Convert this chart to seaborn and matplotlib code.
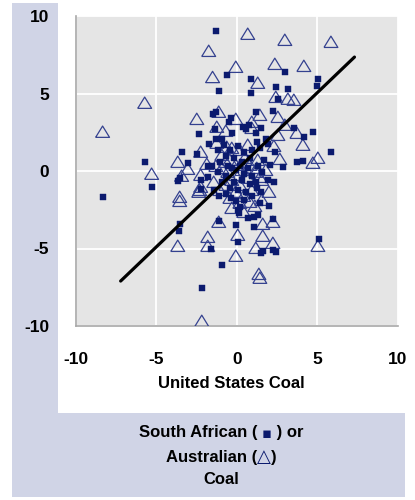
import numpy as np
import pandas as pd
import matplotlib
matplotlib.use("Agg")
import matplotlib.pyplot as plt
import seaborn as sns
from matplotlib.patches import Rectangle
from matplotlib.offsetbox import TextArea, HPacker, AnchoredOffsetbox

# ---------------- data ----------------
sa_x = [-1.30, -2.36, -1.74, -3.42, -2.48, -5.71, -3.04, -3.54, -3.66, -2.24,
        -1.80, -5.28, -2.24, -8.32, -3.54, -3.60, -2.17, -0.62, -1.12, -1.49,
        -1.30, -1.37, -0.50, -1.30, -0.93, -1.80, 0.87, 2.98, 5.03, 4.97,
        2.42, 3.17, 0.87, 2.55, 2.24, 1.18, -0.37, 0.75, 1.49, 3.54,
        4.72, 4.16, 5.84, 3.73, 4.10, 2.86, 2.36, -0.31, 0.37, 0.56,
        1.18, 1.24, 1.80, 1.93, 1.24, 1.49, -0.37, -0.06, 0.19, 0.06,
        0.12, 1.43, 1.99, 0.68, 1.06, 1.30, 2.24, 1.06, -0.06, 0.06,
        1.49, 1.61, 2.24, 2.42, 5.09, -1.61, -1.12, -0.93, -1.12,
        -0.81, -0.43, 0.06, 0.43, 0.93, 1.43, -0.68, -0.19, 0.31, 0.81,
        1.30, -1.06, -0.56, -0.06, 0.43, 0.93, 1.55, -1.18, -0.68, -0.19,
        0.31, 0.81, 1.93, -0.93, -0.43, 0.06, 0.56, -1.43, -0.68, 0.43,
        0.93, -0.31, 0.19, 0.68, 1.18, 1.68, 2.05, 2.30, -1.55, -1.18]
sa_y = [9.03, 2.39, 1.74, 1.23, 1.10, 0.58, 0.52, -0.45, -0.65, -0.58,
        -0.39, -1.03, -1.16, -1.68, -3.42, -3.87, -7.55, 6.19, 5.16, 3.68,
        3.81, 2.71, 3.16, 2.06, 2.06, 0.32, 5.94, 6.39, 5.94, 5.48,
        5.42, 5.29, 5.03, 4.65, 3.87, 3.81, 3.42, 2.97, 2.77, 2.77,
        2.52, 2.19, 1.23, 0.58, 0.65, 0.26, 1.23, 2.45, 2.84, 2.71,
        2.45, 1.87, 2.06, 1.74, -1.10, -1.35, -1.74, -1.94, -2.32, -2.52,
        -2.71, -2.06, -2.26, -3.03, -2.97, -2.84, -3.10, -3.61, -3.48, -4.58,
        -5.29, -5.16, -5.10, -5.23, -4.39, -5.03, -3.23, -6.06, -1.61,
        1.68, 1.35, 1.61, 1.23, 1.35, 1.48, 0.97, 0.84, 0.58, 0.84,
        0.32, 0.58, 0.32, 0.06, -0.19, -0.32, -0.06, -0.06, -0.32, -0.71,
        -0.58, -0.84, -0.58, -0.71, -1.10, -1.23, -1.35, -1.23, -1.48, -1.87,
        -1.61, 0.19, 0.32, 0.19, -0.71, 0.71, 0.39, -0.71, 0.32, 1.35]

au_x = [-1.74, -1.50, -5.71, -8.32, -2.48, -2.24, -3.66, -3.04, -1.86, -5.28,
        -3.42, -2.24, -2.24, -2.36, -3.54, -3.54, -1.80, -3.66, -1.80, -2.17,
        1.37, 1.43, -1.12, -1.24, -0.68, -1.24, -1.30, -0.62, -0.06, 2.36,
        4.16, 0.68, 2.98, 5.84, 1.30, 2.42, 3.17, 3.54, 2.55, 1.43,
        -0.06, 0.93, 0.93, 2.98, 3.73, 4.10, 2.30, 2.55, 5.03, 4.72,
        2.67, 1.99, 1.61, 2.24, 0.06, 1.61, 2.24, 1.18, 5.03, -0.06,
        -2.30, -1.12,
        -0.43, -0.06, 0.31, -0.56, 0.50, 0.81, -0.93, -0.31, 0.19, 0.68,
        1.18, -0.68, -0.06, 0.43, 0.93, 1.55, -1.06, -0.43, 1.80, 1.30,
        0.19, -0.31, -0.93, 0.68, -1.43, 1.55, -0.68, -0.06, 0.81, 0.43,
        0.19, -0.31, 1.12, 1.24, 1.43]
au_y = [7.74, 6.05, 4.39, 2.52, 3.35, 1.23, 0.58, 0.13, 0.45, -0.19,
        -0.32, -0.26, -1.03, -1.35, -1.68, -1.94, -4.26, -4.84, -4.84, -9.68,
        -6.65, -6.90, 3.81, 2.84, 2.58, 1.81, 0.32, 1.55, 6.71, 6.90,
        6.77, 8.84, 8.45, 8.32, 5.68, 4.77, 4.65, 4.58, 3.48, 3.61,
        3.35, 3.16, 2.77, 2.97, 2.45, 1.68, 1.61, 2.32, 0.84, 0.52,
        0.77, -1.35, -3.42, -3.29, -4.13, -4.19, -4.65, -4.97, -4.84, -5.48,
        -1.23, -3.29,
        0.71, 0.39, 0.06, -0.06, 0.84, 0.39, 0.19, -0.58, -0.90, -0.45,
        -0.06, -0.90, -1.35, -1.61, -1.23, -0.58, -1.23, -1.74, 0.06, 0.71,
        1.35, 1.48, 1.03, 1.68, -0.71, -1.87, 0.58, -0.26, -2.00, -2.65,
        -2.06, -2.39, -2.26, 0.19, -0.39]

fit_x = [-7.2, 7.3]
fit_y = [-7.1, 7.35]

ticks = [-10, -5, 0, 5, 10]
tick_labels = ["-10", "-5", "0", "5", "10"]
x_title = "United States Coal"
legend_lines = [["South African ( ", "▪", " ) or"],
                ["Australian (", "△", ")"],
                ["Coal"]]

# ---------------- styling ----------------
W, H = 415, 500
sns.set_style("darkgrid")
plt.rcParams['font.family'] = ['Liberation Sans', 'DejaVu Sans']
plt.rcParams['font.weight'] = 'bold'

navy_sq = "#0b1a6e"
navy_tri = "#34418f"
lavender = "#d0d4e6"

fig = plt.figure(figsize=(W / 100, H / 100), dpi=100)
fig.patch.set_facecolor("white")

def px_rect(x0, y0, x1, y1, color):
    fig.add_artist(Rectangle((x0 / W, 1 - y1 / H), (x1 - x0) / W, (y1 - y0) / H,
                             transform=fig.transFigure, facecolor=color,
                             edgecolor="none", zorder=0))

px_rect(12, 3, 58, 497, lavender)
px_rect(12, 413, 405, 497, lavender)

ax = fig.add_axes([75.5 / W, 1 - 326 / H, (398 - 75.5) / W, (326 - 16) / H])
ax.set_facecolor("#e5e5e5")
ax.set_axisbelow(True)
ax.grid(True, color="white", linewidth=1.3)

tri_marker = [(-1, -0.78), (1, -0.78), (0, 0.85), (-1, -0.78)]

au = pd.DataFrame({"x": au_x, "y": au_y})
sa = pd.DataFrame({"x": sa_x, "y": sa_y})

sns.scatterplot(data=au, x="x", y="y", marker=tri_marker, s=100,
                facecolor="none", edgecolor=navy_tri, linewidth=0.9,
                ax=ax, zorder=3)
sns.scatterplot(data=sa, x="x", y="y", marker="s", s=14,
                color=navy_sq, edgecolor=navy_sq, linewidth=0.3,
                ax=ax, zorder=4)
sns.lineplot(x=fit_x, y=fit_y, color="black", linewidth=2.3, ax=ax, zorder=5)

ax.set_xlim(-10, 10)
ax.set_ylim(-10, 10)
ax.set_xticks(ticks)
ax.set_yticks(ticks)
ax.set_xticklabels(tick_labels)
ax.set_yticklabels(tick_labels)
ax.tick_params(length=0, labelsize=12.5, pad=19, labelcolor="black")
for lab in ax.get_xticklabels() + ax.get_yticklabels():
    lab.set_fontweight("bold")
ax.set_xlabel("")
ax.set_ylabel("")

for side in ["top", "right"]:
    ax.spines[side].set_visible(False)
for side in ["left", "bottom"]:
    ax.spines[side].set_visible(True)
    ax.spines[side].set_color("#a8a8a8")
    ax.spines[side].set_linewidth(1.2)

fig.text(231 / W, 1 - 384 / H, x_title, ha="center", va="center",
         fontsize=12, fontweight="bold", color="black")

line_y = [433, 457, 479]
sym_size = {"▪": 10.5, "△": 13}
for parts, yy in zip(legend_lines, line_y):
    boxes = []
    for p in parts:
        col = navy_sq if p in sym_size else "black"
        fs = sym_size.get(p, 12)
        boxes.append(TextArea(p, textprops=dict(fontsize=fs, fontweight="bold",
                                                 color=col,
                                                 family=['DejaVu Sans'] if p in sym_size
                                                 else ['Liberation Sans', 'DejaVu Sans'])))
    pack = HPacker(children=boxes, align="baseline", pad=0, sep=0)
    anch = AnchoredOffsetbox(loc="center", child=pack, pad=0, borderpad=0,
                             frameon=False,
                             bbox_to_anchor=(221 / W, 1 - yy / H),
                             bbox_transform=fig.transFigure)
    fig.add_artist(anch)

fig.savefig("out.png", dpi=100, facecolor=fig.get_facecolor())
